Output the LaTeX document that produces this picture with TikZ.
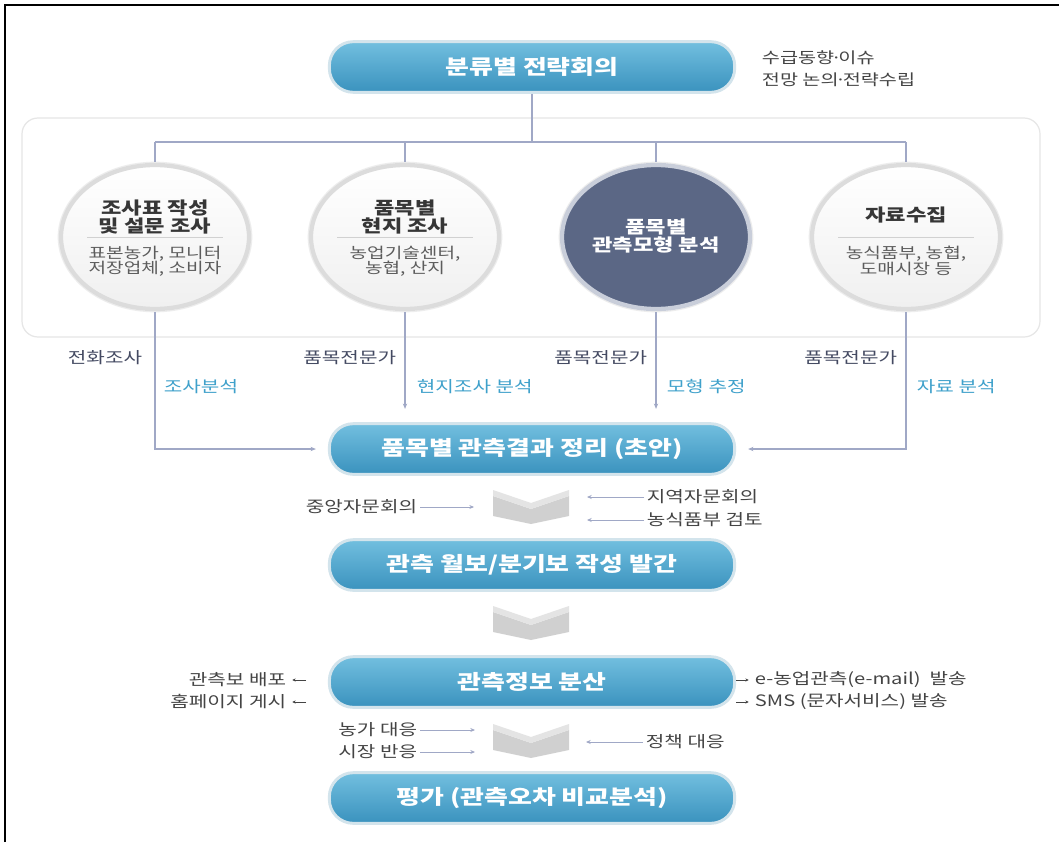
\documentclass[tikz,border=0pt]{standalone}
\usepackage{fontspec}
\setmainfont{Noto Sans CJK KR}[FakeStretch=1.28]
\usetikzlibrary{shapes.geometric,arrows.meta}
\definecolor{pilltop}{HTML}{72BFDF}
\definecolor{pillbot}{HTML}{3A92BE}
\definecolor{pillring}{HTML}{D3E4EC}
\definecolor{conn}{HTML}{A0A8C6}
\definecolor{darklbl}{HTML}{444A62}
\definecolor{bluelbl}{HTML}{3FA1CB}
\definecolor{ringgray}{HTML}{DCDCDC}
\definecolor{darkring}{HTML}{C9CEDA}
\definecolor{darkfill}{HTML}{5B6785}
\definecolor{chevtop}{HTML}{E4E4E4}
\definecolor{chevbody}{HTML}{D0D0D0}
\definecolor{paneledge}{HTML}{E6E6E6}
\definecolor{ttl}{HTML}{363636}
\definecolor{subc}{HTML}{5C5C5C}
\definecolor{sidetxt}{HTML}{444444}
\newcommand{\mdot}{\kern-0.22em·\kern-0.22em}
\begin{document}
\begin{tikzpicture}[x=0.75pt,y=-0.75pt,
  pill/.style={rectangle, rounded corners=18pt, minimum width=304pt, minimum height=38pt,
    top color=pilltop, bottom color=pillbot, draw=pillring, line width=2.2pt,
    text=white, font=\fontsize{15.2}{17}\selectfont\bfseries},
  bubble/.style={ellipse, minimum width=141pt, minimum height=108pt, inner sep=0pt,
    draw=ringgray, line width=3.2pt, top color=white, bottom color=black!6},
  darkbubble/.style={ellipse, minimum width=141pt, minimum height=108pt, inner sep=0pt,
    draw=darkring, line width=3.2pt, fill=darkfill},
  halo/.style={ellipse, minimum width=145pt, minimum height=112pt, inner sep=0pt,
    draw=black!7, line width=1pt},
  ttlstyle/.style={align=center, text=ttl, font=\fontsize{13}{13.8}\selectfont\bfseries, inner sep=1pt},
  substyle/.style={align=center, text=subc, font=\fontsize{11.2}{11.6}\selectfont, inner sep=1pt},
  sepline/.style={draw=black!18, line width=0.6pt},
  conn/.style={draw=conn, line width=0.8pt},
  arr/.style={conn, -{Stealth[length=4pt,width=3.2pt]}},
  sarr/.style={draw=conn, line width=0.6pt, -{Stealth[length=3.5pt,width=3pt]}},
  tarr/.style={draw=sidetxt, line width=0.5pt, -{Stealth[length=2.5pt,width=2.5pt]}, shorten >=2.5pt},
  dlbl/.style={text=darklbl, font=\fontsize{11.8}{13}\selectfont, inner sep=2pt},
  blbl/.style={text=bluelbl, font=\fontsize{11.8}{13}\selectfont, inner sep=2pt},
  side/.style={text=sidetxt, font=\fontsize{11.8}{13}\selectfont, inner sep=2pt},
]
\useasboundingbox (0,0) rectangle (1059,842);
\fill[white] (0,0) rectangle (1059,842);
\draw[line width=1.6pt] (5,842) -- (5,5) -- (1059,5);

% panel
\draw[paneledge, line width=0.9pt, rounded corners=12pt, fill=white] (22,118) rectangle (1040,337);

% top box
\node[pill] (n1) at (532,67) {분류별 전략회의};
\node[side, anchor=west, align=left, font=\fontsize{11.5}{16.5}\selectfont] (n1s) at (759,69) {수급동향\mdot 이슈\\전망 논의\mdot 전략수립};

% circles
\node[halo] (h1) at (155,237) {};
\node[halo] (h2) at (405,237) {};
\node[halo] (h3) at (656,237) {};
\node[halo] (h4) at (906,237) {};
\node[bubble] (c1) at (155,237) {};
\node[bubble] (c2) at (405,237) {};
\node[darkbubble] (c3) at (656,237) {};
\node[bubble] (c4) at (906,237) {};

\node[ttlstyle] (c1t) at (155,217) {조사표 작성\\및 설문 조사};
\draw[sepline] ([xshift=-51pt]c1.center) -- ([xshift=51pt]c1.center);
\node[substyle] (c1s) at (155,261) {표본농가, 모니터\\저장업체, 소비자};

\node[ttlstyle] (c2t) at (405,217) {품목별\\현지 조사};
\draw[sepline] ([xshift=-51pt]c2.center) -- ([xshift=51pt]c2.center);
\node[substyle] (c2s) at (405,261) {농업기술센터,\\농협, 산지};

\node[ttlstyle, text=white] (c3t) at (656,236) {품목별\\관측모형 분석};

\node[ttlstyle] (c4t) at (906,215) {자료수집};
\draw[sepline] ([xshift=-51pt]c4.center) -- ([xshift=51pt]c4.center);
\node[substyle] (c4s) at (906,261) {농식품부, 농협,\\도매시장 등};

% connectors top
\coordinate (jy) at (0,142);
\draw[conn] (n1.south) -- (n1.south |- jy);
\draw[conn] (c1.north |- jy) -- (c4.north |- jy);
\draw[conn] (c1.north |- jy) -- (h1.north);
\draw[conn] (c2.north |- jy) -- (h2.north);
\draw[conn] (c3.north |- jy) -- (h3.north);
\draw[conn] (c4.north |- jy) -- (h4.north);

% second box
\node[pill] (n2) at (532,449) {품목별 관측결과 정리 (초안)};

\draw[arr, shorten >=9pt] (h1.south) -- (h1.south |- n2.west) -- (n2.west);
\draw[arr, shorten >=10pt] (h2.south) -- (h2.south |- n2.north);
\draw[arr, shorten >=10pt] (h3.south) -- (h3.south |- n2.north);
\draw[arr, shorten >=9pt] (h4.south) -- (h4.south |- n2.east) -- (n2.east);

\node[dlbl, anchor=east] (l1a) at (145,358) {전화조사};
\node[blbl, anchor=west] (l1b) at (161,387) {조사분석};
\node[dlbl, anchor=east] (l2a) at (399,358) {품목전문가};
\node[blbl, anchor=west] (l2b) at (414,387) {현지조사 분석};
\node[dlbl, anchor=east] (l3a) at (650,358) {품목전문가};
\node[blbl, anchor=west] (l3b) at (664,387) {모형 추정};
\node[dlbl, anchor=east] (l4a) at (900,358) {품목전문가};
\node[blbl, anchor=west] (l4b) at (914,387) {자료 분석};

% chevrons
\foreach \yy in {490,606,724} {
  \fill[chevbody] (493,\yy+6) -- (531,\yy+19) -- (569,\yy+6) -- (569,\yy+26) -- (531,\yy+34) -- (493,\yy+26) -- cycle;
  \fill[chevtop] (493,\yy) -- (531,\yy+13) -- (569,\yy) -- (569,\yy+6) -- (531,\yy+19) -- (493,\yy+6) -- cycle;
}

% chevron 1 labels
\node[side, anchor=east] (m1) at (420,507) {중앙자문회의};
\coordinate (m1e) at (474,507);
\draw[sarr] (m1) -- (m1e);
\node[side, anchor=west] (m2) at (644,497) {지역자문회의};
\coordinate (m2e) at (587,497);
\draw[sarr] (m2) -- (m2e);
\node[side, anchor=west] (m3) at (644,520) {농식품부 검토};
\coordinate (m3e) at (587,520);
\draw[sarr] (m3) -- (m3e);

% third box
\node[pill] (n3) at (532,565) {관측 월보/분기보 작성 발간};

% fourth box
\node[pill] (n4) at (532,682) {관측정보 분산};
\node[side, anchor=east] (s1) at (289,680) {관측보 배포};
\node[side, anchor=east] (s2) at (289,702) {홈페이지 게시};
\coordinate (s1a) at (306,680);
\coordinate (s2a) at (306,702);
\draw[tarr] (s1a) -- (s1);
\draw[tarr] (s2a) -- (s2);
\node[side, anchor=west] (s3) at (752,680) {e-농업관측(e-mail)\ \ 발송};
\node[side, anchor=west] (s4) at (752,702) {SMS (문자서비스) 발송};
\coordinate (s3a) at (736,680);
\coordinate (s4a) at (736,702);
\draw[tarr] (s3a) -- (s3);
\draw[tarr] (s4a) -- (s4);

% chevron 3 labels
\node[side, anchor=east] (p1) at (420,730) {농가 대응};
\coordinate (p1e) at (475,730);
\draw[sarr] (p1) -- (p1e);
\node[side, anchor=east] (p2) at (420,752) {시장 반응};
\coordinate (p2e) at (475,752);
\draw[sarr] (p2) -- (p2e);
\node[side, anchor=west] (p3) at (643,742) {정책 대응};
\coordinate (p3e) at (586,742);
\draw[sarr] (p3) -- (p3e);

% fifth box
\node[pill] (n5) at (532,798) {평가 (관측오차 비교분석)};
\end{tikzpicture}
\end{document}
